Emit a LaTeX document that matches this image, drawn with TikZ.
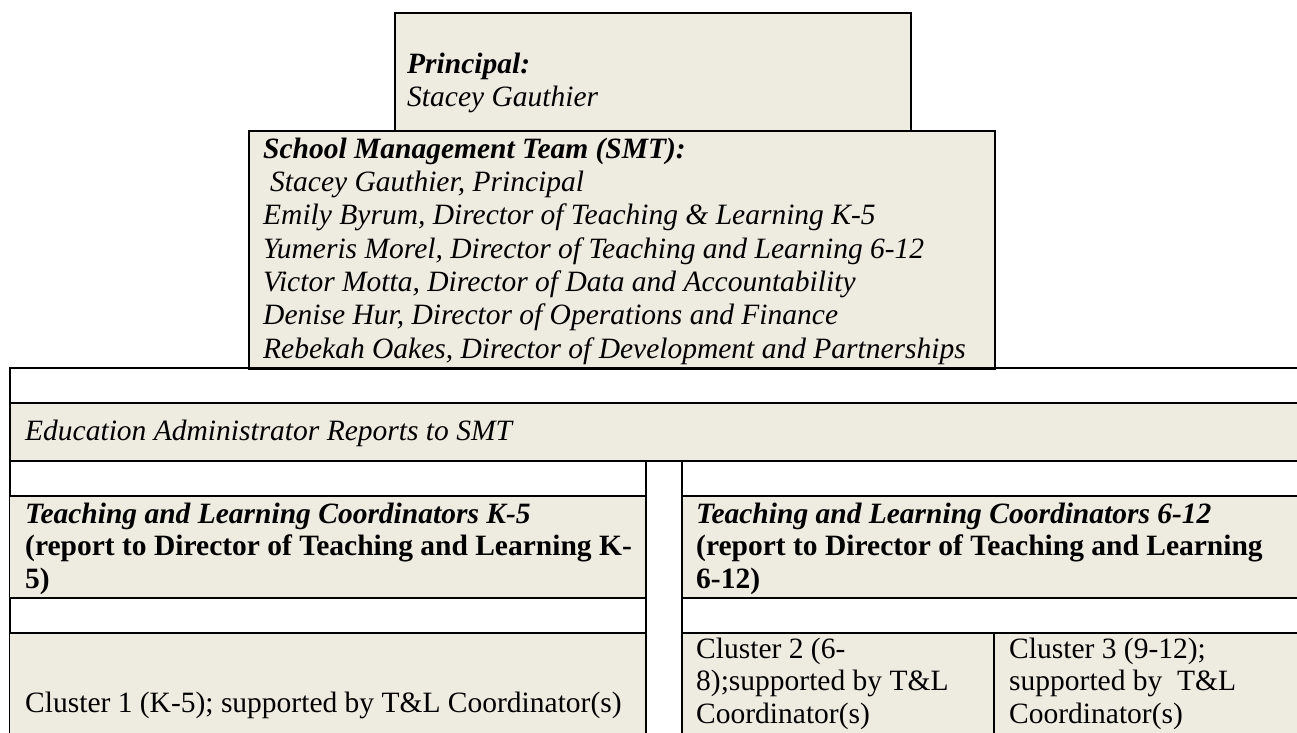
\documentclass[tikz,border=0pt]{standalone}
\usepackage{fontspec}
\setmainfont{Liberation Serif}
\usetikzlibrary{positioning}
\definecolor{boxtan}{HTML}{EEECE1}

\begin{document}
\begin{tikzpicture}[
  x=1pt, y=-1pt,
  font=\fontsize{29.5}{32.5}\selectfont,
  gridline/.style={draw=black, line width=1.6pt},
  orgbox/.style={rectangle, draw=black, fill=boxtan, line width=1.6pt, anchor=north west, inner sep=0pt},
  % multi-line text sits on the baseline of its last line
  celltext/.style={anchor=base west, align=left, inner sep=0pt}
]
  \useasboundingbox (0,0) rectangle (1297,732);
  \clip (0,0) rectangle (1297,732);

  % top boxes
  \node[orgbox, minimum width=516pt, minimum height=118pt] (principal) at (394,12) {};
  \node[orgbox, minimum width=746pt, minimum height=238pt] (smt) at (248,130) {};
  \node[celltext] (principaltxt) at (407,106) {\textbf{\textit{Principal:}}\\\textit{Stacey Gauthier}};
  \node[celltext, font=\fontsize{29.5}{33.3}\selectfont] (smttxt) at (263,358) {\textbf{\textit{School Management Team (SMT):}}\\
    \itshape\hspace{7pt}Stacey Gauthier, Principal\\
    \itshape Emily Byrum, Director of Teaching \& Learning K-5\\
    \itshape Yumeris Morel, Director of Teaching and Learning 6-12\\
    \itshape Victor Motta, Director of Data and Accountability\\
    \itshape Denise Hur, Director of Operations and Finance\\
    \itshape Rebekah Oakes, Director of Development and Partnerships};

  % admin row
  \fill[boxtan] (10,403) rectangle (1297,461);
  \draw[gridline] (10,760) -- (10,368) -- (1297,368);
  \draw[gridline] (10,403) -- (1297,403);
  \draw[gridline] (10,461) -- (1297,461);
  \node[celltext] (admintxt) at (25,440) {\textit{Education Administrator Reports to SMT}};

  % the two coordinator columns
  \foreach \xa/\xb in {10/646, 682/1297} {
    \fill[boxtan] (\xa,496) rectangle (\xb,598);
    \fill[boxtan] (\xa,633) rectangle (\xb,760);
    \draw[gridline] (\xa,496) -- (\xb,496);
    \draw[gridline] (\xa,598) -- (\xb,598);
    \draw[gridline] (\xa,633) -- (\xb,633);
  }
  \draw[gridline] (646,461) -- (646,760);
  \draw[gridline] (682,461) -- (682,760);
  \draw[gridline] (994,633) -- (994,760);

  \node[celltext] (tlleft) at (25,588) {\textbf{\textit{Teaching and Learning Coordinators K-5}}\\
    \textbf{(report to Director of Teaching and Learning K-}\\\textbf{5)}};
  \node[celltext] (tlright) at (696,588) {\textbf{\textit{Teaching and Learning Coordinators 6-12}}\\
    \textbf{(report to Director of Teaching and Learning}\\\textbf{6-12)}};

  \node[celltext] (cluster1) at (25,712) {Cluster 1 (K-5); supported by T\&L Coordinator(s)};
  \node[celltext] (cluster2) at (696,723) {Cluster 2 (6-\\8);supported by T\&L\\Coordinator(s)};
  \node[celltext] (cluster3) at (1009,723) {Cluster 3 (9-12);\\supported by\ \ T\&L\\Coordinator(s)};
\end{tikzpicture}
\end{document}
